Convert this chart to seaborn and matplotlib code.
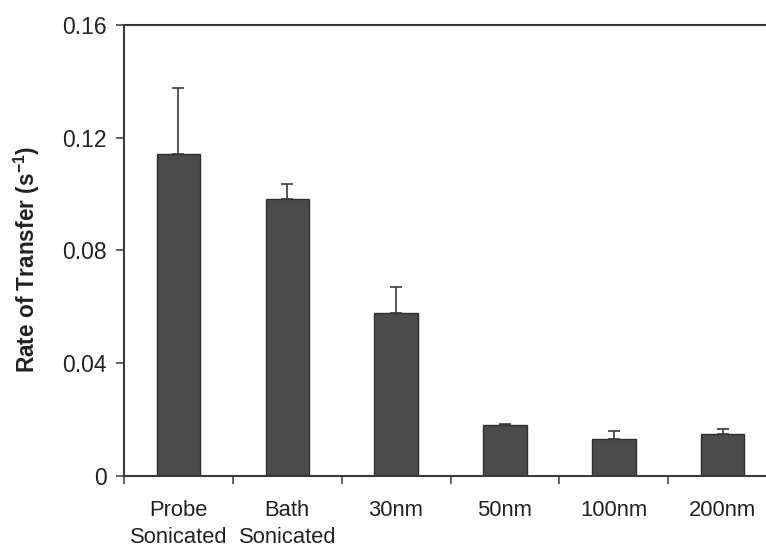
import matplotlib
matplotlib.use("Agg")
import matplotlib.pyplot as plt
import seaborn as sns
import pandas as pd
import numpy as np
from matplotlib.ticker import FixedLocator

# Transfer rates by vesicle preparation
categories = ["Probe\nSonicated", "Bath\nSonicated", "30nm", "50nm", "100nm", "200nm"]
rates = [0.1142, 0.0984, 0.0577, 0.0181, 0.0132, 0.0149]
errors = [0.0233, 0.0053, 0.0095, 0.0005, 0.0027, 0.0017]
y_ticks = [0, 0.04, 0.08, 0.12, 0.16]
y_tick_labels = ["0", "0.04", "0.08", "0.12", "0.16"]

df = pd.DataFrame({"prep": categories, "rate": rates, "err": errors})

sns.set_theme(style="white")
plt.rcParams["font.family"] = ["Liberation Sans", "DejaVu Sans"]
plt.rcParams["mathtext.fontset"] = "custom"
plt.rcParams["mathtext.rm"] = "Liberation Sans"
plt.rcParams["mathtext.bf"] = "Liberation Sans:bold"

fig = plt.figure(figsize=(7.66, 5.48), dpi=100)
ax = fig.add_axes([0.1619, 0.1314, 0.8525, 0.823])

bar_color = "#4b4b4b"
edge_color = "#2e2e2e"
axis_color = "#3a3a3a"
text_color = "#222222"

sns.barplot(data=df, x="prep", y="rate", ax=ax, color=bar_color, width=0.4,
            edgecolor=edge_color, linewidth=1.0, errorbar=None, saturation=1)

# upper-only error bars
xpos = np.arange(len(df))
ax.errorbar(xpos, df["rate"], yerr=[np.zeros(len(df)), df["err"]], fmt="none",
            ecolor=axis_color, elinewidth=1.2, capsize=4, capthick=1.2, zorder=3)

ax.set_xlim(-0.5, len(df) - 0.5)
ax.set_ylim(0, 0.16)
ax.set_yticks(y_ticks)
ax.set_yticklabels(y_tick_labels)

ax.xaxis.set_minor_locator(FixedLocator(np.arange(-0.5, len(df), 1.0)))
ax.tick_params(axis="x", which="major", length=0, pad=17, labelsize=15.8, colors=text_color)
ax.tick_params(axis="x", which="minor", bottom=True, length=6, width=1.1, color=axis_color)
ax.tick_params(axis="y", which="major", left=True, length=6, width=1.1, color=axis_color,
               pad=6.5, labelsize=16.5, labelcolor=text_color)

ax.set_xlabel("")
ax.set_ylabel("")
fig.text(27 / 766, 1 - 259.5 / 548, r"Rate of Transfer (s$^{\mathbf{-1}}$)",
         rotation=90, ha="center", va="center", fontsize=16.3, fontweight="bold",
         color=text_color)

for side in ["left", "bottom", "top"]:
    ax.spines[side].set_visible(True)
    ax.spines[side].set_color(axis_color)
    ax.spines[side].set_linewidth(1.5)
ax.spines["right"].set_visible(False)

for lbl in ax.get_xticklabels():
    lbl.set_linespacing(1.38)

fig.savefig("out.png", dpi=100)
